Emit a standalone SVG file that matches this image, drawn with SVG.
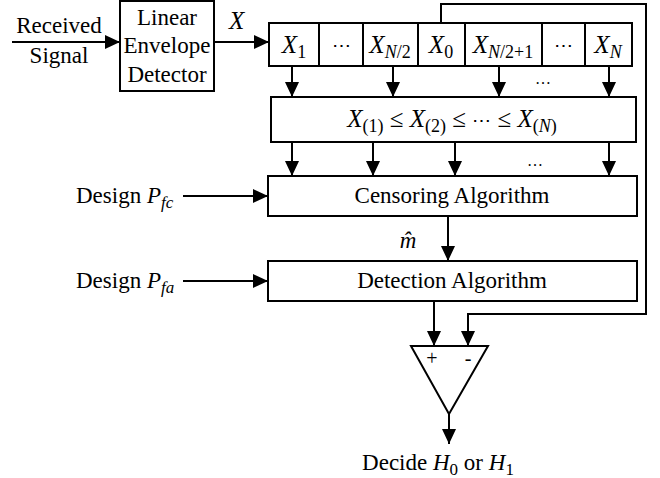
<svg xmlns="http://www.w3.org/2000/svg" width="660" height="478" viewBox="0 0 660 478" font-family="'Liberation Serif', 'DejaVu Serif', serif">
<style>
.box{fill:#fff;stroke:#000;stroke-width:2}
.arr{fill:none;stroke:#000;stroke-width:2;marker-end:url(#ah)}
.t{font-size:23px;fill:#000}
.m{font-size:25px;font-style:italic;fill:#000}
.s{font-size:18px}
.up{font-style:normal}
.c{text-anchor:middle}
.dots{font-size:19px;font-style:normal}
</style>
<defs>
<marker id="ah" markerUnits="userSpaceOnUse" markerWidth="16" markerHeight="14" refX="15" refY="7" orient="auto">
<path d="M0,0 L15,7 L0,14 Z" fill="#000"/>
</marker>
</defs>
<rect width="660" height="478" fill="#fff"/>

<g id="connectors">
<line class="arr" x1="12" y1="42" x2="120" y2="42"/>
<line class="arr" x1="214" y1="42" x2="269" y2="42"/>
<line class="arr" x1="292" y1="66" x2="292" y2="97"/>
<line class="arr" x1="393" y1="66" x2="393" y2="97"/>
<line class="arr" x1="499" y1="66" x2="499" y2="97"/>
<line class="arr" x1="609" y1="66" x2="609" y2="97"/>
<line class="arr" x1="292" y1="142" x2="292" y2="176"/>
<line class="arr" x1="373" y1="142" x2="373" y2="176"/>
<line class="arr" x1="455" y1="142" x2="455" y2="176"/>
<line class="arr" x1="609" y1="142" x2="609" y2="176"/>
<line class="arr" x1="183" y1="196" x2="268" y2="196"/>
<line class="arr" x1="183" y1="281" x2="268" y2="281"/>
<line class="arr" x1="448" y1="216" x2="448" y2="261"/>
<line class="arr" x1="434" y1="301" x2="434" y2="346"/>
<polyline class="arr" points="441,23 441,4 646,4 646,314 468,314 468,346"/>
<line class="arr" x1="449" y1="414" x2="449" y2="444"/>
</g>

<g id="input-label">
<text class="t c" x="59" y="33">Received</text>
<text class="t c" x="59" y="63">Signal</text>
</g>

<g id="envelope-detector">
<rect class="box" x="120" y="1" width="94" height="90"/>
<text class="t c" x="167" y="25">Linear</text>
<text class="t c" x="167" y="53">Envelope</text>
<text class="t c" x="167" y="82">Detector</text>
</g>
<text class="m" x="229" y="29">X</text>

<g id="register">
<g id="cell-x1"><rect class="box" x="269" y="23" width="50" height="43"/><text class="m c" x="294" y="53">X<tspan class="s up" dy="5">1</tspan></text></g>
<g id="cell-dots1"><rect class="box" x="319" y="23" width="44" height="43"/><text class="t c dots" x="341" y="52">⋯</text></g>
<g id="cell-xn2"><rect class="box" x="363" y="23" width="55" height="43"/><text class="m c" x="390" y="53">X<tspan class="s" dy="5">N</tspan><tspan class="s up">/2</tspan></text></g>
<g id="cell-x0"><rect class="box" x="418" y="23" width="47" height="43"/><text class="m c" x="441" y="53">X<tspan class="s up" dy="5">0</tspan></text></g>
<g id="cell-xn21"><rect class="box" x="465" y="23" width="77" height="43"/><text class="m c" x="503" y="53">X<tspan class="s" dy="5">N</tspan><tspan class="s up">/2+1</tspan></text></g>
<g id="cell-dots2"><rect class="box" x="542" y="23" width="43" height="43"/><text class="t c dots" x="563" y="52">⋯</text></g>
<g id="cell-xn"><rect class="box" x="585" y="23" width="47" height="43"/><text class="m c" x="608" y="53">X<tspan class="s" dy="5">N</tspan></text></g>
</g>
<text class="t c" x="543" y="84" style="font-size:16px">…</text>

<g id="sorter">
<rect class="box" x="271" y="97" width="365" height="45"/>
<text class="m c" x="452" y="127">X<tspan class="s up" dy="5">(1)</tspan><tspan class="up" dy="-5"> ≤ </tspan>X<tspan class="s up" dy="5">(2)</tspan><tspan class="up" dy="-5"> ≤ </tspan><tspan class="dots">⋯</tspan><tspan class="up"> ≤ </tspan>X<tspan class="s up" dy="5">(</tspan><tspan class="s">N</tspan><tspan class="s up">)</tspan></text>
</g>
<text class="t c" x="535" y="166" style="font-size:16px">…</text>

<g id="censoring">
<rect class="box" x="268" y="176" width="369" height="40"/>
<text class="t c" x="452" y="203">Censoring Algorithm</text>
</g>
<g id="design-pfc">
<text class="t" x="76" y="203">Design <tspan font-style="italic">P</tspan><tspan font-style="italic" font-size="17" dy="5">fc</tspan></text>
</g>

<text class="m c" x="408" y="248" style="font-size:23px">m̂</text>

<g id="detection">
<rect class="box" x="268" y="261" width="369" height="40"/>
<text class="t c" x="452" y="288">Detection Algorithm</text>
</g>
<g id="design-pfa">
<text class="t" x="76" y="288">Design <tspan font-style="italic">P</tspan><tspan font-style="italic" font-size="17" dy="5">fa</tspan></text>
</g>

<g id="comparator">
<polygon class="box" points="411,346 488,346 449,414"/>
<text class="t c" x="432" y="365" style="font-size:20px">+</text>
<text class="t c" x="468" y="365" style="font-size:20px">-</text>
</g>

<g id="output">
<text class="t c" x="438" y="470">Decide <tspan font-style="italic">H</tspan><tspan font-size="17" dy="5">0</tspan><tspan dy="-5"> or </tspan><tspan font-style="italic">H</tspan><tspan font-size="17" dy="5">1</tspan></text>
</g>
</svg>
